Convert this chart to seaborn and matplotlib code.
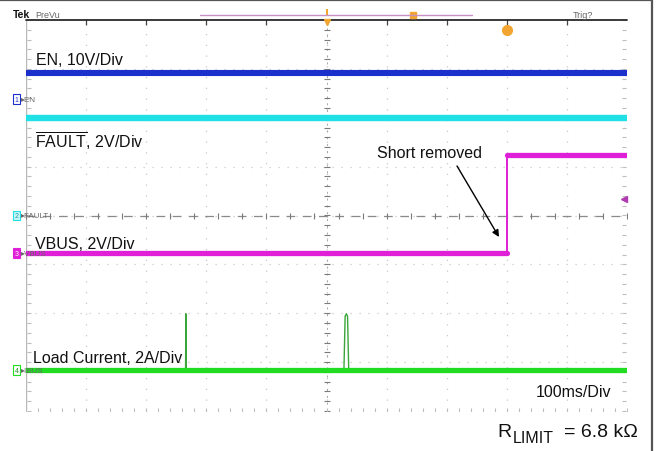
import numpy as np
import pandas as pd
import matplotlib
matplotlib.use("Agg")
import matplotlib.pyplot as plt
from matplotlib.lines import Line2D
import seaborn as sns

# ---- acquisition settings -------------------------------------------------
time_span_ms = [0, 1000]              # 100 ms/div, 10 divisions
channels = ["EN", "FAULT", "VBUS", "IBUS"]
units_per_div = [10.0, 2.0, 2.0, 2.0]  # V/div, V/div, V/div, A/div
ground_div = [2.38, 0.0, -0.765, -3.16]
channel_colors = ["#1c30cc", "#1fe0e6", "#e01fd8", "#22dc22"]

# ---- waveforms --------------------------------------------------------------
en_v = [5.4, 5.4]
fault_v = [4.0, 4.0]
vbus_time_ms = [0, 800, 800, 1000]
vbus_v = [0.0, 0.0, 4.0, 4.0]
ibus_time_ms = [0, 265.5, 266, 266.5, 529, 531, 533, 535, 537, 1000]
ibus_a = [0.0, 0.0, 2.3, 0.0, 0.0, 2.2, 2.3, 2.2, 0.0, 0.0]
trigger_level_v = 2.2   # on VBUS

W, H = 657, 452


def to_div(ch, values):
    i = channels.index(ch)
    return [ground_div[i] + v / units_per_div[i] for v in values]


def fx(x):
    return x / W


def fy(y):
    return 1 - y / H


sns.set_style("white")
plt.rcParams["font.family"] = ["Liberation Sans", "DejaVu Sans"]
plt.rcParams["mathtext.fontset"] = "custom"
plt.rcParams["mathtext.rm"] = "Liberation Sans"
plt.rcParams["mathtext.it"] = "Liberation Sans:italic"

fig = plt.figure(figsize=(W / 100, H / 100), dpi=100)
ax = fig.add_axes([fx(26), fy(412), 601 / W, 391 / H])
ax.set_xlim(*time_span_ms)
ax.set_ylim(-4, 4)
for s in ax.spines.values():
    s.set_visible(False)
ax.set_xticks([])
ax.set_yticks([])

# ---- graticule -------------------------------------------------------------
grid_c = "#c8c8c8"
for k in range(1, 10):
    ax.axvline(k * 100, color=grid_c, lw=0.9, ls=(0, (1, 7.6)), zorder=0)
for k in range(-3, 4):
    ax.axhline(k, color=grid_c, lw=0.9, ls=(0, (1, 6.2)), zorder=0)
ax.axvline(0, color="#b8b8b8", lw=1.0, zorder=0)
ax.axhline(0, color="#8a8a8a", lw=0.9, ls=(0, (7, 6)), zorder=0)
ax.axvline(500, color="#a5a5a5", lw=0.7, ls=(0, (2, 5)), zorder=0)
cross_t = np.arange(0, 1001, 40)
minor_d = np.arange(-4, 4.01, 0.2)
minor_t = np.arange(0, 1001, 20)
ax.plot(cross_t, np.zeros_like(cross_t), "|", ms=5, color="#7a7a7a", mew=0.8, zorder=0)
ax.plot(np.full_like(minor_d, 500), minor_d, "_", ms=4, color="#7a7a7a", mew=0.8, zorder=0)
ax.plot(minor_t, np.full_like(minor_t, -3.97, dtype=float), "|", ms=3, color="#bdbdbd", mew=0.8, zorder=0)
ax.plot(np.full_like(minor_d, 995), minor_d, "_", ms=3, color="#bdbdbd", mew=0.8, zorder=0)
ax.plot(np.full_like(minor_d, 5), minor_d, "_", ms=3, color="#bdbdbd", mew=0.8, zorder=0)
# top status line with division ticks
ax.axhline(4, color="#2a2a2a", lw=1.3, zorder=3, clip_on=False)
ax.plot(np.arange(100, 1000, 100), np.full(9, 3.95), "|", ms=4, color="#444", mew=0.9, clip_on=False)

# ---- traces ---------------------------------------------------------------
sns.lineplot(x=time_span_ms, y=to_div("EN", en_v), color=channel_colors[0],
             lw=4.4, estimator=None, sort=False, ax=ax, zorder=4)
sns.lineplot(x=time_span_ms, y=to_div("FAULT", fault_v), color=channel_colors[1],
             lw=4.6, estimator=None, sort=False, ax=ax, zorder=4)

# VBUS: thin trace for edges, thick band over flat stretches
vb_y = to_div("VBUS", vbus_v)
sns.lineplot(x=vbus_time_ms, y=vb_y, color=channel_colors[2], lw=1.4,
             estimator=None, sort=False, ax=ax, zorder=4)
for i in range(len(vbus_time_ms) - 1):
    if vbus_v[i] == vbus_v[i + 1]:
        sns.lineplot(x=vbus_time_ms[i:i + 2], y=vb_y[i:i + 2], color=channel_colors[2],
                     lw=3.8, estimator=None, sort=False, ax=ax, zorder=4)

ib_y = to_div("IBUS", ibus_a)
sns.lineplot(x=ibus_time_ms, y=ib_y, color="#3aa63a", lw=1.0,
             estimator=None, sort=False, ax=ax, zorder=4)
sns.lineplot(x=time_span_ms, y=to_div("IBUS", [ibus_a[0], ibus_a[-1]]), color=channel_colors[3],
             lw=3.8, estimator=None, sort=False, ax=ax, zorder=4)

# trigger level and trigger position indicators
ax.plot([995], to_div("VBUS", [trigger_level_v]), marker="<", ms=4,
        color="#b03ab0", clip_on=False, zorder=5)
ax.plot([vbus_time_ms[1]], [3.8], "o", ms=7, color="#f2a530", zorder=5)
ax.plot([500], [3.95], "v", ms=4, color="#f2a530", clip_on=False, zorder=5)
ax.plot([500], [4.17], "|", ms=4, mew=1.5, color="#f2a530", clip_on=False, zorder=5)

# ---- header -----------------------------------------------------------------
fig.add_artist(Line2D([fx(200), fx(472)], [fy(16)] * 2, transform=fig.transFigure,
                      color="#c58fc5", lw=1.0))
ax.plot([644], [4.1], "s", ms=4, color="#f2a530", clip_on=False, zorder=5)
fig.text(fx(13), fy(15), "Tek", fontsize=7.5, fontweight="bold", va="center", color="#111")
fig.text(fx(35), fy(15), "PreVu", fontsize=6.5, va="center", color="#666")
fig.text(fx(573), fy(15), "Trig?", fontsize=6.5, va="center", color="#666")

# outer frame
fig.add_artist(Line2D([0, fx(652)], [fy(1)] * 2, transform=fig.transFigure, color="#555", lw=1.6))
fig.add_artist(Line2D([fx(652)] * 2, [0, fy(1)], transform=fig.transFigure, color="#555", lw=1.6))

# ---- channel reference markers ---------------------------------------------------
marker_fc = ["white", "#c8f6f8", channel_colors[2], "white"]
marker_tc = [channel_colors[0], "#1aa0a6", "white", "#1a9a1a"]
for i, ch in enumerate(channels):
    yd = ground_div[i]
    ypix = 216.6 - yd * 48.9
    fig.text(fx(16.5), fy(ypix), str(i + 1), fontsize=5, ha="center", va="center",
             color=marker_tc[i],
             bbox=dict(boxstyle="square,pad=0.2", fc=marker_fc[i], ec=channel_colors[i], lw=0.8))
    fig.text(fx(20.5), fy(ypix), "\u25b8" + ch, fontsize=5.8, va="center", color="#666")

# ---- annotations ---------------------------------------------------------------
lab = dict(fontsize=11.5, va="baseline", color="#111")
fig.text(fx(36), fy(65), "EN, 10V/Div", **lab)
fig.text(fx(35), fy(148), r"$\overline{\mathrm{FAULT}}$, 2V/Div", **lab)
fig.text(fx(35), fy(249), "VBUS, 2V/Div", **lab)
fig.text(fx(33), fy(363), "Load Current, 2A/Div", **lab)
fig.text(fx(377), fy(158), "Short removed", **lab)
fig.text(fx(536), fy(397), "100ms/Div", **lab)

fig.text(fx(497), fy(437), "R", fontsize=14, va="baseline", color="#111")
fig.text(fx(513), fy(443), "LIMIT", fontsize=11.5, va="baseline", color="#111")
fig.text(fx(564), fy(437), "= 6.8 k\u03a9", fontsize=14, va="baseline", color="#111")

ax.annotate("", xy=(499, H - 238), xycoords="figure pixels",
            xytext=(457, H - 167), textcoords="figure pixels",
            arrowprops=dict(arrowstyle="-|>", color="black", lw=1.0, mutation_scale=10,
                            shrinkA=0, shrinkB=0))

fig.savefig("out.png", dpi=100)
